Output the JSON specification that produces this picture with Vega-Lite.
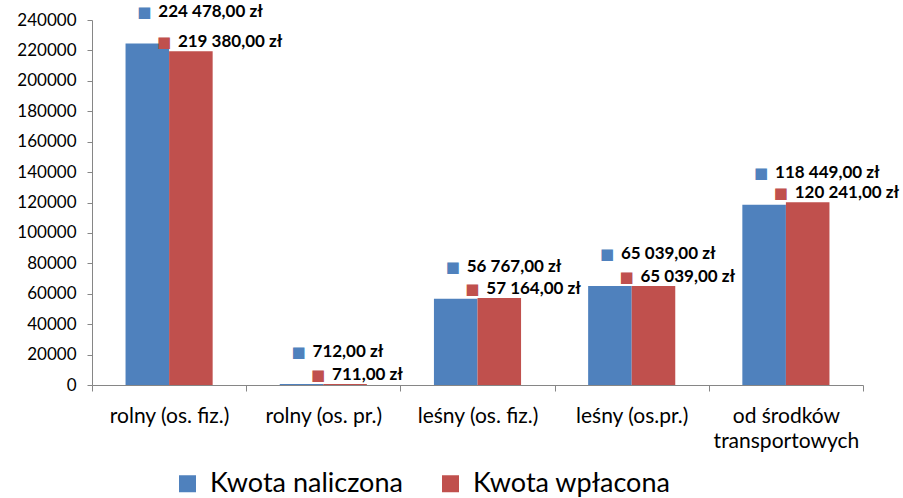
{
  "$schema": "https://vega.github.io/schema/vega-lite/v6.json",
  "width": 771,
  "height": 365,
  "autosize": {"type": "none"},
  "padding": {"left": 92, "top": 20, "right": 40, "bottom": 113},
  "background": "white",
  "config": {"view": {"stroke": null}},
  "data": {
    "values": [
      {"kategoria": "rolny (os. fiz.)", "seria": "Kwota naliczona", "kwota": 224478, "etykieta": "224 478,00 zł"},
      {"kategoria": "rolny (os. fiz.)", "seria": "Kwota wpłacona", "kwota": 219380, "etykieta": "219 380,00 zł"},
      {"kategoria": "rolny (os. pr.)", "seria": "Kwota naliczona", "kwota": 712, "etykieta": "712,00 zł"},
      {"kategoria": "rolny (os. pr.)", "seria": "Kwota wpłacona", "kwota": 711, "etykieta": "711,00 zł"},
      {"kategoria": "leśny (os. fiz.)", "seria": "Kwota naliczona", "kwota": 56767, "etykieta": "56 767,00 zł"},
      {"kategoria": "leśny (os. fiz.)", "seria": "Kwota wpłacona", "kwota": 57164, "etykieta": "57 164,00 zł"},
      {"kategoria": "leśny (os.pr.)", "seria": "Kwota naliczona", "kwota": 65039, "etykieta": "65 039,00 zł"},
      {"kategoria": "leśny (os.pr.)", "seria": "Kwota wpłacona", "kwota": 65039, "etykieta": "65 039,00 zł"},
      {"kategoria": "od środków transportowych", "seria": "Kwota naliczona", "kwota": 118449, "etykieta": "118 449,00 zł"},
      {"kategoria": "od środków transportowych", "seria": "Kwota wpłacona", "kwota": 120241, "etykieta": "120 241,00 zł"}
    ]
  },
  "encoding": {
    "x": {
      "field": "kategoria",
      "type": "nominal",
      "sort": null,
      "scale": {"paddingInner": 0, "paddingOuter": 0},
      "axis": {
        "title": null,
        "labelAngle": 0,
        "labelFont": "Lato",
        "labelFontSize": 21,
        "labelColor": "#000000",
        "labelPadding": 14,
        "labelLineHeight": 25,
        "labelLimit": 0,
        "labelExpr": "datum.value == 'od środków transportowych' ? ['od środków', 'transportowych'] : datum.value",
        "domainColor": "#868686",
        "tickColor": "#868686",
        "tickSize": 6,
        "tickBand": "extent",
        "grid": false
      }
    },
    "xOffset": {
      "field": "seria",
      "type": "nominal",
      "sort": null,
      "scale": {"paddingInner": 0, "paddingOuter": 0.77}
    },
    "y": {
      "field": "kwota",
      "type": "quantitative",
      "scale": {"domain": [0, 240000], "nice": false},
      "axis": {
        "title": null,
        "values": [0, 20000, 40000, 60000, 80000, 100000, 120000, 140000, 160000, 180000, 200000, 220000, 240000],
        "format": "d",
        "labelFont": "Lato",
        "labelFontSize": 17,
        "labelColor": "#000000",
        "labelPadding": 11,
        "domainColor": "#868686",
        "tickColor": "#868686",
        "tickSize": 5,
        "grid": false
      }
    }
  },
  "layer": [
    {
      "mark": {"type": "bar"},
      "encoding": {
        "color": {
          "field": "seria",
          "type": "nominal",
          "sort": null,
          "scale": {"domain": ["Kwota naliczona", "Kwota wpłacona"], "range": ["#4F81BD", "#C0504D"]},
          "legend": {
            "title": null,
            "orient": "none",
            "direction": "horizontal",
            "legendX": 82,
            "legendY": 450,
            "symbolType": "square",
            "symbolSize": 289,
            "symbolStrokeWidth": 0,
            "labelFont": "Lato",
            "labelFontSize": 27,
            "labelColor": "#000000",
            "labelOffset": 9,
            "labelLimit": 0,
            "columnPadding": 34,
            "padding": 0
          }
        }
      }
    },
    {
      "transform": [{"filter": "datum.seria == 'Kwota naliczona'"}],
      "mark": {"type": "text", "text": "■", "font": "DejaVu Sans", "fontSize": 15, "align": "left", "baseline": "middle", "dx": -10, "dy": -32, "color": "#4F81BD"},
      "encoding": {}
    },
    {
      "transform": [{"filter": "datum.seria == 'Kwota naliczona'"}],
      "mark": {"type": "text", "font": "Lato", "fontWeight": "bold", "fontSize": 17, "align": "left", "baseline": "middle", "dx": 11, "dy": -32, "color": "#000000"},
      "encoding": {"text": {"field": "etykieta"}}
    },
    {
      "transform": [{"filter": "datum.seria == 'Kwota wpłacona'"}],
      "mark": {"type": "text", "text": "■", "font": "DejaVu Sans", "fontSize": 15, "align": "left", "baseline": "middle", "dx": -34, "dy": -9, "color": "#C0504D"},
      "encoding": {}
    },
    {
      "transform": [{"filter": "datum.seria == 'Kwota wpłacona'"}],
      "mark": {"type": "text", "font": "Lato", "fontWeight": "bold", "fontSize": 17, "align": "left", "baseline": "middle", "dx": -13, "dy": -9, "color": "#000000"},
      "encoding": {"text": {"field": "etykieta"}}
    }
  ]
}
